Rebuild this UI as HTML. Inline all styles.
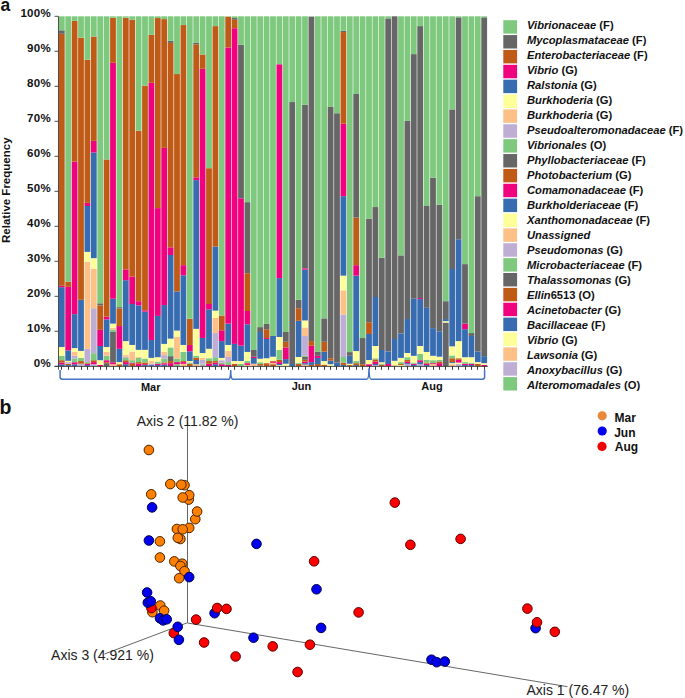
<!DOCTYPE html><html><head><meta charset="utf-8"><style>html,body{margin:0;padding:0;background:#fff;}svg{display:block;}text{font-family:"Liberation Sans",sans-serif;}</style></head><body>
<svg width="685" height="698" viewBox="0 0 685 698">
<rect width="685" height="698" fill="#fff"/>
<g shape-rendering="auto">
<rect x="58.90" y="364.34" width="5.80" height="1.96" fill="#386cb0"/>
<rect x="58.90" y="362.59" width="5.80" height="1.75" fill="#f0027f"/>
<rect x="58.90" y="360.21" width="5.80" height="2.38" fill="#bf5b17"/>
<rect x="58.90" y="355.80" width="5.80" height="4.41" fill="#7fc97f"/>
<rect x="58.90" y="347.05" width="5.80" height="8.75" fill="#ffff99"/>
<rect x="58.90" y="287.20" width="5.80" height="59.85" fill="#386cb0"/>
<rect x="58.90" y="285.80" width="5.80" height="1.40" fill="#f0027f"/>
<rect x="58.90" y="33.80" width="5.80" height="252.00" fill="#bf5b17"/>
<rect x="58.90" y="30.30" width="5.80" height="3.50" fill="#666666"/>
<rect x="58.90" y="16.30" width="5.80" height="14.00" fill="#7fc97f"/>
<rect x="65.30" y="365.07" width="5.80" height="1.23" fill="#386cb0"/>
<rect x="65.30" y="363.75" width="5.80" height="1.33" fill="#bf5b17"/>
<rect x="65.30" y="362.10" width="5.80" height="1.64" fill="#beaed4"/>
<rect x="65.30" y="360.84" width="5.80" height="1.26" fill="#ffff99"/>
<rect x="65.30" y="350.34" width="5.80" height="10.50" fill="#386cb0"/>
<rect x="65.30" y="286.85" width="5.80" height="63.49" fill="#f0027f"/>
<rect x="65.30" y="281.60" width="5.80" height="5.25" fill="#bf5b17"/>
<rect x="65.30" y="16.30" width="5.80" height="265.30" fill="#7fc97f"/>
<rect x="71.70" y="364.34" width="5.80" height="1.96" fill="#386cb0"/>
<rect x="71.70" y="362.24" width="5.80" height="2.10" fill="#f0027f"/>
<rect x="71.70" y="358.60" width="5.80" height="3.64" fill="#7fc97f"/>
<rect x="71.70" y="355.80" width="5.80" height="2.80" fill="#beaed4"/>
<rect x="71.70" y="351.95" width="5.80" height="3.85" fill="#fdc086"/>
<rect x="71.70" y="348.10" width="5.80" height="3.85" fill="#ffff99"/>
<rect x="71.70" y="314.15" width="5.80" height="33.95" fill="#386cb0"/>
<rect x="71.70" y="161.55" width="5.80" height="152.60" fill="#f0027f"/>
<rect x="71.70" y="20.85" width="5.80" height="140.70" fill="#bf5b17"/>
<rect x="71.70" y="16.30" width="5.80" height="4.55" fill="#7fc97f"/>
<rect x="78.10" y="363.75" width="5.80" height="2.56" fill="#beaed4"/>
<rect x="78.10" y="361.05" width="5.80" height="2.69" fill="#bf5b17"/>
<rect x="78.10" y="357.90" width="5.80" height="3.15" fill="#7fc97f"/>
<rect x="78.10" y="350.90" width="5.80" height="7.00" fill="#ffff99"/>
<rect x="78.10" y="299.80" width="5.80" height="51.10" fill="#386cb0"/>
<rect x="78.10" y="37.65" width="5.80" height="262.15" fill="#bf5b17"/>
<rect x="78.10" y="16.30" width="5.80" height="21.35" fill="#7fc97f"/>
<rect x="84.50" y="365.07" width="5.80" height="1.23" fill="#386cb0"/>
<rect x="84.50" y="363.75" width="5.80" height="1.33" fill="#f0027f"/>
<rect x="84.50" y="363.15" width="5.80" height="0.59" fill="#bf5b17"/>
<rect x="84.50" y="362.10" width="5.80" height="1.05" fill="#7fc97f"/>
<rect x="84.50" y="348.80" width="5.80" height="13.30" fill="#beaed4"/>
<rect x="84.50" y="261.65" width="5.80" height="87.15" fill="#fdc086"/>
<rect x="84.50" y="251.85" width="5.80" height="9.80" fill="#ffff99"/>
<rect x="84.50" y="206.00" width="5.80" height="45.85" fill="#386cb0"/>
<rect x="84.50" y="202.85" width="5.80" height="3.15" fill="#f0027f"/>
<rect x="84.50" y="59.70" width="5.80" height="143.15" fill="#bf5b17"/>
<rect x="84.50" y="16.30" width="5.80" height="43.40" fill="#7fc97f"/>
<rect x="90.90" y="364.20" width="5.80" height="2.10" fill="#beaed4"/>
<rect x="90.90" y="362.10" width="5.80" height="2.10" fill="#f0027f"/>
<rect x="90.90" y="360.21" width="5.80" height="1.89" fill="#bf5b17"/>
<rect x="90.90" y="353.21" width="5.80" height="7.00" fill="#7fc97f"/>
<rect x="90.90" y="308.20" width="5.80" height="45.01" fill="#beaed4"/>
<rect x="90.90" y="268.65" width="5.80" height="39.55" fill="#fdc086"/>
<rect x="90.90" y="258.15" width="5.80" height="10.50" fill="#ffff99"/>
<rect x="90.90" y="152.45" width="5.80" height="105.70" fill="#386cb0"/>
<rect x="90.90" y="140.90" width="5.80" height="11.55" fill="#f0027f"/>
<rect x="90.90" y="36.60" width="5.80" height="104.30" fill="#bf5b17"/>
<rect x="90.90" y="16.30" width="5.80" height="20.30" fill="#7fc97f"/>
<rect x="97.30" y="364.90" width="5.80" height="1.40" fill="#f0027f"/>
<rect x="97.30" y="360.21" width="5.80" height="4.69" fill="#ffff99"/>
<rect x="97.30" y="346.00" width="5.80" height="14.21" fill="#386cb0"/>
<rect x="97.30" y="329.90" width="5.80" height="16.10" fill="#f0027f"/>
<rect x="97.30" y="305.40" width="5.80" height="24.50" fill="#bf5b17"/>
<rect x="97.30" y="303.30" width="5.80" height="2.10" fill="#666666"/>
<rect x="97.30" y="16.30" width="5.80" height="287.00" fill="#7fc97f"/>
<rect x="103.70" y="363.15" width="5.80" height="3.15" fill="#666666"/>
<rect x="103.70" y="362.24" width="5.80" height="0.91" fill="#bf5b17"/>
<rect x="103.70" y="360.21" width="5.80" height="2.03" fill="#f0027f"/>
<rect x="103.70" y="355.80" width="5.80" height="4.41" fill="#7fc97f"/>
<rect x="103.70" y="351.95" width="5.80" height="3.85" fill="#fdc086"/>
<rect x="103.70" y="347.05" width="5.80" height="4.90" fill="#ffff99"/>
<rect x="103.70" y="319.40" width="5.80" height="27.65" fill="#386cb0"/>
<rect x="103.70" y="316.60" width="5.80" height="2.80" fill="#f0027f"/>
<rect x="103.70" y="159.45" width="5.80" height="157.15" fill="#bf5b17"/>
<rect x="103.70" y="16.30" width="5.80" height="143.15" fill="#7fc97f"/>
<rect x="110.10" y="364.20" width="5.80" height="2.10" fill="#fdc086"/>
<rect x="110.10" y="362.24" width="5.80" height="1.96" fill="#f0027f"/>
<rect x="110.10" y="332.00" width="5.80" height="30.24" fill="#666666"/>
<rect x="110.10" y="329.55" width="5.80" height="2.45" fill="#7fc97f"/>
<rect x="110.10" y="327.80" width="5.80" height="1.75" fill="#fdc086"/>
<rect x="110.10" y="323.60" width="5.80" height="4.20" fill="#ffff99"/>
<rect x="110.10" y="298.75" width="5.80" height="24.85" fill="#386cb0"/>
<rect x="110.10" y="62.85" width="5.80" height="235.90" fill="#f0027f"/>
<rect x="110.10" y="17.70" width="5.80" height="45.15" fill="#bf5b17"/>
<rect x="110.10" y="16.30" width="5.80" height="1.40" fill="#7fc97f"/>
<rect x="116.50" y="364.20" width="5.80" height="2.10" fill="#bf5b17"/>
<rect x="116.50" y="362.10" width="5.80" height="2.10" fill="#ffff99"/>
<rect x="116.50" y="348.80" width="5.80" height="13.30" fill="#386cb0"/>
<rect x="116.50" y="326.05" width="5.80" height="22.75" fill="#f0027f"/>
<rect x="116.50" y="308.55" width="5.80" height="17.50" fill="#bf5b17"/>
<rect x="116.50" y="307.15" width="5.80" height="1.40" fill="#666666"/>
<rect x="116.50" y="16.30" width="5.80" height="290.85" fill="#7fc97f"/>
<rect x="122.90" y="364.20" width="5.80" height="2.10" fill="#386cb0"/>
<rect x="122.90" y="362.10" width="5.80" height="2.10" fill="#f0027f"/>
<rect x="122.90" y="360.21" width="5.80" height="1.89" fill="#bf5b17"/>
<rect x="122.90" y="357.90" width="5.80" height="2.31" fill="#7fc97f"/>
<rect x="122.90" y="356.85" width="5.80" height="1.05" fill="#beaed4"/>
<rect x="122.90" y="355.10" width="5.80" height="1.75" fill="#fdc086"/>
<rect x="122.90" y="341.10" width="5.80" height="14.00" fill="#ffff99"/>
<rect x="122.90" y="280.20" width="5.80" height="60.90" fill="#386cb0"/>
<rect x="122.90" y="269.35" width="5.80" height="10.85" fill="#f0027f"/>
<rect x="122.90" y="17.70" width="5.80" height="251.65" fill="#bf5b17"/>
<rect x="122.90" y="16.30" width="5.80" height="1.40" fill="#7fc97f"/>
<rect x="129.30" y="363.75" width="5.80" height="2.56" fill="#bf5b17"/>
<rect x="129.30" y="362.80" width="5.80" height="0.94" fill="#f0027f"/>
<rect x="129.30" y="360.21" width="5.80" height="2.59" fill="#7fc97f"/>
<rect x="129.30" y="351.60" width="5.80" height="8.61" fill="#fdc086"/>
<rect x="129.30" y="344.95" width="5.80" height="6.65" fill="#ffff99"/>
<rect x="129.30" y="304.00" width="5.80" height="40.95" fill="#386cb0"/>
<rect x="129.30" y="276.70" width="5.80" height="27.30" fill="#f0027f"/>
<rect x="129.30" y="19.80" width="5.80" height="256.90" fill="#bf5b17"/>
<rect x="129.30" y="16.30" width="5.80" height="3.50" fill="#7fc97f"/>
<rect x="135.70" y="363.75" width="5.80" height="2.56" fill="#f0027f"/>
<rect x="135.70" y="362.10" width="5.80" height="1.64" fill="#bf5b17"/>
<rect x="135.70" y="357.90" width="5.80" height="4.20" fill="#7fc97f"/>
<rect x="135.70" y="356.85" width="5.80" height="1.05" fill="#fdc086"/>
<rect x="135.70" y="349.85" width="5.80" height="7.00" fill="#ffff99"/>
<rect x="135.70" y="305.40" width="5.80" height="44.45" fill="#386cb0"/>
<rect x="135.70" y="301.20" width="5.80" height="4.20" fill="#f0027f"/>
<rect x="135.70" y="130.75" width="5.80" height="170.45" fill="#bf5b17"/>
<rect x="135.70" y="16.30" width="5.80" height="114.45" fill="#7fc97f"/>
<rect x="142.10" y="365.07" width="5.80" height="1.23" fill="#386cb0"/>
<rect x="142.10" y="364.20" width="5.80" height="0.88" fill="#f0027f"/>
<rect x="142.10" y="362.45" width="5.80" height="1.75" fill="#bf5b17"/>
<rect x="142.10" y="358.60" width="5.80" height="3.85" fill="#7fc97f"/>
<rect x="142.10" y="349.85" width="5.80" height="8.75" fill="#ffff99"/>
<rect x="142.10" y="311.70" width="5.80" height="38.15" fill="#386cb0"/>
<rect x="142.10" y="310.30" width="5.80" height="1.40" fill="#f0027f"/>
<rect x="142.10" y="85.60" width="5.80" height="224.70" fill="#bf5b17"/>
<rect x="142.10" y="16.30" width="5.80" height="69.30" fill="#7fc97f"/>
<rect x="148.50" y="365.07" width="5.80" height="1.23" fill="#386cb0"/>
<rect x="148.50" y="363.75" width="5.80" height="1.33" fill="#beaed4"/>
<rect x="148.50" y="361.05" width="5.80" height="2.69" fill="#fdc086"/>
<rect x="148.50" y="357.90" width="5.80" height="3.15" fill="#ffff99"/>
<rect x="148.50" y="340.05" width="5.80" height="17.85" fill="#386cb0"/>
<rect x="148.50" y="82.80" width="5.80" height="257.25" fill="#f0027f"/>
<rect x="148.50" y="34.85" width="5.80" height="47.95" fill="#bf5b17"/>
<rect x="148.50" y="16.30" width="5.80" height="18.55" fill="#7fc97f"/>
<rect x="154.90" y="365.07" width="5.80" height="1.23" fill="#386cb0"/>
<rect x="154.90" y="363.75" width="5.80" height="1.33" fill="#f0027f"/>
<rect x="154.90" y="361.57" width="5.80" height="2.17" fill="#7fc97f"/>
<rect x="154.90" y="357.20" width="5.80" height="4.38" fill="#ffff99"/>
<rect x="154.90" y="315.90" width="5.80" height="41.30" fill="#386cb0"/>
<rect x="154.90" y="208.10" width="5.80" height="107.80" fill="#f0027f"/>
<rect x="154.90" y="18.05" width="5.80" height="190.05" fill="#bf5b17"/>
<rect x="154.90" y="16.30" width="5.80" height="1.75" fill="#7fc97f"/>
<rect x="161.30" y="364.62" width="5.80" height="1.68" fill="#386cb0"/>
<rect x="161.30" y="363.29" width="5.80" height="1.33" fill="#f0027f"/>
<rect x="161.30" y="362.45" width="5.80" height="0.84" fill="#bf5b17"/>
<rect x="161.30" y="358.60" width="5.80" height="3.85" fill="#7fc97f"/>
<rect x="161.30" y="355.10" width="5.80" height="3.50" fill="#beaed4"/>
<rect x="161.30" y="351.95" width="5.80" height="3.15" fill="#fdc086"/>
<rect x="161.30" y="343.90" width="5.80" height="8.05" fill="#ffff99"/>
<rect x="161.30" y="305.05" width="5.80" height="38.85" fill="#386cb0"/>
<rect x="161.30" y="147.90" width="5.80" height="157.15" fill="#f0027f"/>
<rect x="161.30" y="19.10" width="5.80" height="128.80" fill="#bf5b17"/>
<rect x="161.30" y="16.30" width="5.80" height="2.80" fill="#7fc97f"/>
<rect x="167.70" y="363.15" width="5.80" height="3.15" fill="#f0027f"/>
<rect x="167.70" y="361.05" width="5.80" height="2.10" fill="#bf5b17"/>
<rect x="167.70" y="356.15" width="5.80" height="4.90" fill="#666666"/>
<rect x="167.70" y="347.40" width="5.80" height="8.75" fill="#7fc97f"/>
<rect x="167.70" y="338.65" width="5.80" height="8.75" fill="#ffff99"/>
<rect x="167.70" y="255.00" width="5.80" height="83.65" fill="#386cb0"/>
<rect x="167.70" y="247.30" width="5.80" height="7.70" fill="#f0027f"/>
<rect x="167.70" y="42.90" width="5.80" height="204.40" fill="#bf5b17"/>
<rect x="167.70" y="40.80" width="5.80" height="2.10" fill="#666666"/>
<rect x="167.70" y="16.30" width="5.80" height="24.50" fill="#7fc97f"/>
<rect x="174.10" y="364.20" width="5.80" height="2.10" fill="#7fc97f"/>
<rect x="174.10" y="362.10" width="5.80" height="2.10" fill="#f0027f"/>
<rect x="174.10" y="358.60" width="5.80" height="3.50" fill="#7fc97f"/>
<rect x="174.10" y="336.90" width="5.80" height="21.70" fill="#fdc086"/>
<rect x="174.10" y="330.60" width="5.80" height="6.30" fill="#ffff99"/>
<rect x="174.10" y="291.40" width="5.80" height="39.20" fill="#386cb0"/>
<rect x="174.10" y="74.05" width="5.80" height="217.35" fill="#bf5b17"/>
<rect x="174.10" y="16.30" width="5.80" height="57.75" fill="#7fc97f"/>
<rect x="180.50" y="363.85" width="5.80" height="2.45" fill="#fdc086"/>
<rect x="180.50" y="362.10" width="5.80" height="1.75" fill="#f0027f"/>
<rect x="180.50" y="361.05" width="5.80" height="1.05" fill="#bf5b17"/>
<rect x="180.50" y="351.95" width="5.80" height="9.10" fill="#7fc97f"/>
<rect x="180.50" y="344.95" width="5.80" height="7.00" fill="#ffff99"/>
<rect x="180.50" y="275.30" width="5.80" height="69.65" fill="#386cb0"/>
<rect x="180.50" y="265.15" width="5.80" height="10.15" fill="#f0027f"/>
<rect x="180.50" y="25.05" width="5.80" height="240.10" fill="#bf5b17"/>
<rect x="180.50" y="16.30" width="5.80" height="8.75" fill="#7fc97f"/>
<rect x="186.90" y="363.85" width="5.80" height="2.45" fill="#bf5b17"/>
<rect x="186.90" y="362.45" width="5.80" height="1.40" fill="#7fc97f"/>
<rect x="186.90" y="361.05" width="5.80" height="1.40" fill="#ffff99"/>
<rect x="186.90" y="351.25" width="5.80" height="9.80" fill="#386cb0"/>
<rect x="186.90" y="344.95" width="5.80" height="6.30" fill="#f0027f"/>
<rect x="186.90" y="318.70" width="5.80" height="26.25" fill="#bf5b17"/>
<rect x="186.90" y="16.30" width="5.80" height="302.40" fill="#7fc97f"/>
<rect x="193.30" y="364.20" width="5.80" height="2.10" fill="#fdc086"/>
<rect x="193.30" y="360.00" width="5.80" height="4.20" fill="#386cb0"/>
<rect x="193.30" y="357.90" width="5.80" height="2.10" fill="#bf5b17"/>
<rect x="193.30" y="355.62" width="5.80" height="2.28" fill="#7fc97f"/>
<rect x="193.30" y="328.85" width="5.80" height="26.77" fill="#ffff99"/>
<rect x="193.30" y="180.10" width="5.80" height="148.75" fill="#386cb0"/>
<rect x="193.30" y="177.30" width="5.80" height="2.80" fill="#f0027f"/>
<rect x="193.30" y="44.30" width="5.80" height="133.00" fill="#bf5b17"/>
<rect x="193.30" y="42.55" width="5.80" height="1.75" fill="#666666"/>
<rect x="193.30" y="16.30" width="5.80" height="26.25" fill="#7fc97f"/>
<rect x="199.70" y="364.55" width="5.80" height="1.75" fill="#beaed4"/>
<rect x="199.70" y="363.75" width="5.80" height="0.81" fill="#7fc97f"/>
<rect x="199.70" y="359.82" width="5.80" height="3.92" fill="#beaed4"/>
<rect x="199.70" y="357.90" width="5.80" height="1.92" fill="#fdc086"/>
<rect x="199.70" y="353.00" width="5.80" height="4.90" fill="#ffff99"/>
<rect x="199.70" y="337.95" width="5.80" height="15.05" fill="#386cb0"/>
<rect x="199.70" y="68.80" width="5.80" height="269.15" fill="#f0027f"/>
<rect x="199.70" y="54.45" width="5.80" height="14.35" fill="#bf5b17"/>
<rect x="199.70" y="16.30" width="5.80" height="38.15" fill="#7fc97f"/>
<rect x="206.10" y="363.75" width="5.80" height="2.56" fill="#f0027f"/>
<rect x="206.10" y="361.05" width="5.80" height="2.69" fill="#bf5b17"/>
<rect x="206.10" y="358.25" width="5.80" height="2.80" fill="#7fc97f"/>
<rect x="206.10" y="348.80" width="5.80" height="9.45" fill="#ffff99"/>
<rect x="206.10" y="309.25" width="5.80" height="39.55" fill="#386cb0"/>
<rect x="206.10" y="304.00" width="5.80" height="5.25" fill="#f0027f"/>
<rect x="206.10" y="168.20" width="5.80" height="135.80" fill="#bf5b17"/>
<rect x="206.10" y="16.30" width="5.80" height="151.90" fill="#7fc97f"/>
<rect x="212.50" y="364.20" width="5.80" height="2.10" fill="#386cb0"/>
<rect x="212.50" y="362.62" width="5.80" height="1.57" fill="#f0027f"/>
<rect x="212.50" y="361.05" width="5.80" height="1.57" fill="#bf5b17"/>
<rect x="212.50" y="357.20" width="5.80" height="3.85" fill="#7fc97f"/>
<rect x="212.50" y="333.05" width="5.80" height="24.15" fill="#beaed4"/>
<rect x="212.50" y="318.00" width="5.80" height="15.05" fill="#fdc086"/>
<rect x="212.50" y="310.65" width="5.80" height="7.35" fill="#ffff99"/>
<rect x="212.50" y="246.60" width="5.80" height="64.05" fill="#386cb0"/>
<rect x="212.50" y="26.10" width="5.80" height="220.50" fill="#bf5b17"/>
<rect x="212.50" y="16.30" width="5.80" height="9.80" fill="#7fc97f"/>
<rect x="218.90" y="364.20" width="5.80" height="2.10" fill="#f0027f"/>
<rect x="218.90" y="362.80" width="5.80" height="1.40" fill="#7fc97f"/>
<rect x="218.90" y="360.21" width="5.80" height="2.59" fill="#beaed4"/>
<rect x="218.90" y="357.90" width="5.80" height="2.31" fill="#ffff99"/>
<rect x="218.90" y="341.10" width="5.80" height="16.80" fill="#386cb0"/>
<rect x="218.90" y="330.25" width="5.80" height="10.85" fill="#f0027f"/>
<rect x="218.90" y="315.55" width="5.80" height="14.70" fill="#bf5b17"/>
<rect x="218.90" y="16.30" width="5.80" height="299.25" fill="#7fc97f"/>
<rect x="225.30" y="364.90" width="5.80" height="1.40" fill="#f0027f"/>
<rect x="225.30" y="362.10" width="5.80" height="2.80" fill="#7fc97f"/>
<rect x="225.30" y="356.99" width="5.80" height="5.11" fill="#beaed4"/>
<rect x="225.30" y="351.04" width="5.80" height="5.95" fill="#fdc086"/>
<rect x="225.30" y="344.95" width="5.80" height="6.09" fill="#ffff99"/>
<rect x="225.30" y="323.60" width="5.80" height="21.35" fill="#386cb0"/>
<rect x="225.30" y="47.45" width="5.80" height="276.15" fill="#f0027f"/>
<rect x="225.30" y="16.65" width="5.80" height="30.80" fill="#bf5b17"/>
<rect x="225.30" y="16.30" width="5.80" height="0.35" fill="#7fc97f"/>
<rect x="231.70" y="363.75" width="5.80" height="2.56" fill="#bf5b17"/>
<rect x="231.70" y="361.05" width="5.80" height="2.69" fill="#ffff99"/>
<rect x="231.70" y="343.90" width="5.80" height="17.15" fill="#386cb0"/>
<rect x="231.70" y="28.20" width="5.80" height="315.70" fill="#f0027f"/>
<rect x="231.70" y="19.80" width="5.80" height="8.40" fill="#bf5b17"/>
<rect x="231.70" y="18.05" width="5.80" height="1.75" fill="#666666"/>
<rect x="231.70" y="16.30" width="5.80" height="1.75" fill="#7fc97f"/>
<rect x="238.10" y="363.75" width="5.80" height="2.56" fill="#7fc97f"/>
<rect x="238.10" y="361.05" width="5.80" height="2.69" fill="#ffff99"/>
<rect x="238.10" y="345.65" width="5.80" height="15.40" fill="#386cb0"/>
<rect x="238.10" y="198.30" width="5.80" height="147.35" fill="#f0027f"/>
<rect x="238.10" y="44.65" width="5.80" height="153.65" fill="#666666"/>
<rect x="238.10" y="16.30" width="5.80" height="28.35" fill="#7fc97f"/>
<rect x="244.50" y="364.90" width="5.80" height="1.40" fill="#fdc086"/>
<rect x="244.50" y="363.15" width="5.80" height="1.75" fill="#f0027f"/>
<rect x="244.50" y="361.05" width="5.80" height="2.10" fill="#7fc97f"/>
<rect x="244.50" y="351.95" width="5.80" height="9.10" fill="#ffff99"/>
<rect x="244.50" y="324.30" width="5.80" height="27.65" fill="#386cb0"/>
<rect x="244.50" y="311.00" width="5.80" height="13.30" fill="#f0027f"/>
<rect x="244.50" y="273.20" width="5.80" height="37.80" fill="#bf5b17"/>
<rect x="244.50" y="202.15" width="5.80" height="71.05" fill="#666666"/>
<rect x="244.50" y="16.30" width="5.80" height="185.85" fill="#7fc97f"/>
<rect x="250.90" y="363.75" width="5.80" height="2.56" fill="#fdc086"/>
<rect x="250.90" y="358.04" width="5.80" height="5.70" fill="#386cb0"/>
<rect x="250.90" y="356.71" width="5.80" height="1.33" fill="#f0027f"/>
<rect x="250.90" y="349.99" width="5.80" height="6.72" fill="#666666"/>
<rect x="250.90" y="16.30" width="5.80" height="333.69" fill="#7fc97f"/>
<rect x="257.30" y="365.53" width="5.80" height="0.77" fill="#386cb0"/>
<rect x="257.30" y="364.03" width="5.80" height="1.50" fill="#bf5b17"/>
<rect x="257.30" y="362.24" width="5.80" height="1.79" fill="#7fc97f"/>
<rect x="257.30" y="358.74" width="5.80" height="3.50" fill="#ffff99"/>
<rect x="257.30" y="332.00" width="5.80" height="26.74" fill="#386cb0"/>
<rect x="257.30" y="327.10" width="5.80" height="4.90" fill="#666666"/>
<rect x="257.30" y="16.30" width="5.80" height="310.80" fill="#7fc97f"/>
<rect x="263.70" y="363.15" width="5.80" height="3.15" fill="#bf5b17"/>
<rect x="263.70" y="358.25" width="5.80" height="4.90" fill="#ffff99"/>
<rect x="263.70" y="339.00" width="5.80" height="19.25" fill="#386cb0"/>
<rect x="263.70" y="338.06" width="5.80" height="0.94" fill="#f0027f"/>
<rect x="263.70" y="329.20" width="5.80" height="8.86" fill="#bf5b17"/>
<rect x="263.70" y="323.95" width="5.80" height="5.25" fill="#666666"/>
<rect x="263.70" y="16.30" width="5.80" height="307.65" fill="#7fc97f"/>
<rect x="270.10" y="364.20" width="5.80" height="2.10" fill="#bf5b17"/>
<rect x="270.10" y="362.80" width="5.80" height="1.40" fill="#fdc086"/>
<rect x="270.10" y="361.75" width="5.80" height="1.05" fill="#f0027f"/>
<rect x="270.10" y="360.70" width="5.80" height="1.05" fill="#bf5b17"/>
<rect x="270.10" y="356.71" width="5.80" height="3.99" fill="#ffff99"/>
<rect x="270.10" y="335.96" width="5.80" height="20.75" fill="#386cb0"/>
<rect x="270.10" y="16.30" width="5.80" height="319.66" fill="#7fc97f"/>
<rect x="276.50" y="365.07" width="5.80" height="1.23" fill="#ffff99"/>
<rect x="276.50" y="364.03" width="5.80" height="1.05" fill="#386cb0"/>
<rect x="276.50" y="362.10" width="5.80" height="1.93" fill="#f0027f"/>
<rect x="276.50" y="359.79" width="5.80" height="2.31" fill="#bf5b17"/>
<rect x="276.50" y="349.99" width="5.80" height="9.80" fill="#7fc97f"/>
<rect x="276.50" y="337.00" width="5.80" height="12.99" fill="#ffff99"/>
<rect x="276.50" y="278.10" width="5.80" height="58.90" fill="#386cb0"/>
<rect x="276.50" y="64.25" width="5.80" height="213.85" fill="#f0027f"/>
<rect x="276.50" y="16.30" width="5.80" height="47.95" fill="#7fc97f"/>
<rect x="282.90" y="363.75" width="5.80" height="2.56" fill="#ffff99"/>
<rect x="282.90" y="359.09" width="5.80" height="4.65" fill="#386cb0"/>
<rect x="282.90" y="347.40" width="5.80" height="11.69" fill="#f0027f"/>
<rect x="282.90" y="341.80" width="5.80" height="5.60" fill="#bf5b17"/>
<rect x="282.90" y="332.00" width="5.80" height="9.80" fill="#666666"/>
<rect x="282.90" y="16.30" width="5.80" height="315.70" fill="#7fc97f"/>
<rect x="289.30" y="364.03" width="5.80" height="2.27" fill="#386cb0"/>
<rect x="289.30" y="102.05" width="5.80" height="261.98" fill="#666666"/>
<rect x="289.30" y="16.30" width="5.80" height="85.75" fill="#7fc97f"/>
<rect x="295.70" y="363.75" width="5.80" height="2.56" fill="#bf5b17"/>
<rect x="295.70" y="362.80" width="5.80" height="0.94" fill="#7fc97f"/>
<rect x="295.70" y="356.99" width="5.80" height="5.81" fill="#ffff99"/>
<rect x="295.70" y="320.80" width="5.80" height="36.19" fill="#386cb0"/>
<rect x="295.70" y="308.20" width="5.80" height="12.60" fill="#bf5b17"/>
<rect x="295.70" y="299.80" width="5.80" height="8.40" fill="#666666"/>
<rect x="295.70" y="16.30" width="5.80" height="283.50" fill="#7fc97f"/>
<rect x="302.10" y="364.62" width="5.80" height="1.68" fill="#fdc086"/>
<rect x="302.10" y="363.15" width="5.80" height="1.47" fill="#386cb0"/>
<rect x="302.10" y="361.75" width="5.80" height="1.40" fill="#f0027f"/>
<rect x="302.10" y="359.79" width="5.80" height="1.96" fill="#bf5b17"/>
<rect x="302.10" y="356.99" width="5.80" height="2.80" fill="#666666"/>
<rect x="302.10" y="355.84" width="5.80" height="1.15" fill="#7fc97f"/>
<rect x="302.10" y="335.96" width="5.80" height="19.88" fill="#beaed4"/>
<rect x="302.10" y="327.45" width="5.80" height="8.51" fill="#fdc086"/>
<rect x="302.10" y="320.45" width="5.80" height="7.00" fill="#ffff99"/>
<rect x="302.10" y="269.70" width="5.80" height="50.75" fill="#386cb0"/>
<rect x="302.10" y="268.30" width="5.80" height="1.40" fill="#f0027f"/>
<rect x="302.10" y="104.85" width="5.80" height="163.45" fill="#666666"/>
<rect x="302.10" y="16.30" width="5.80" height="88.55" fill="#7fc97f"/>
<rect x="308.50" y="364.90" width="5.80" height="1.40" fill="#bf5b17"/>
<rect x="308.50" y="362.10" width="5.80" height="2.80" fill="#386cb0"/>
<rect x="308.50" y="345.79" width="5.80" height="16.31" fill="#f0027f"/>
<rect x="308.50" y="341.10" width="5.80" height="4.69" fill="#bf5b17"/>
<rect x="308.50" y="16.65" width="5.80" height="324.45" fill="#666666"/>
<rect x="308.50" y="16.30" width="5.80" height="0.35" fill="#7fc97f"/>
<rect x="314.90" y="364.03" width="5.80" height="2.27" fill="#bf5b17"/>
<rect x="314.90" y="357.90" width="5.80" height="6.12" fill="#386cb0"/>
<rect x="314.90" y="355.80" width="5.80" height="2.10" fill="#f0027f"/>
<rect x="314.90" y="351.95" width="5.80" height="3.85" fill="#666666"/>
<rect x="314.90" y="16.30" width="5.80" height="335.65" fill="#7fc97f"/>
<rect x="321.30" y="364.62" width="5.80" height="1.68" fill="#bf5b17"/>
<rect x="321.30" y="361.05" width="5.80" height="3.57" fill="#ffff99"/>
<rect x="321.30" y="351.60" width="5.80" height="9.45" fill="#386cb0"/>
<rect x="321.30" y="341.80" width="5.80" height="9.80" fill="#bf5b17"/>
<rect x="321.30" y="318.35" width="5.80" height="23.45" fill="#666666"/>
<rect x="321.30" y="16.30" width="5.80" height="302.05" fill="#7fc97f"/>
<rect x="327.70" y="364.20" width="5.80" height="2.10" fill="#ffff99"/>
<rect x="327.70" y="360.70" width="5.80" height="3.50" fill="#386cb0"/>
<rect x="327.70" y="358.25" width="5.80" height="2.45" fill="#bf5b17"/>
<rect x="327.70" y="106.95" width="5.80" height="251.30" fill="#666666"/>
<rect x="327.70" y="16.30" width="5.80" height="90.65" fill="#7fc97f"/>
<rect x="334.10" y="362.59" width="5.80" height="3.71" fill="#386cb0"/>
<rect x="334.10" y="113.25" width="5.80" height="249.34" fill="#666666"/>
<rect x="334.10" y="16.30" width="5.80" height="96.95" fill="#7fc97f"/>
<rect x="340.50" y="364.90" width="5.80" height="1.40" fill="#386cb0"/>
<rect x="340.50" y="362.59" width="5.80" height="2.31" fill="#bf5b17"/>
<rect x="340.50" y="356.99" width="5.80" height="5.60" fill="#7fc97f"/>
<rect x="340.50" y="314.50" width="5.80" height="42.49" fill="#beaed4"/>
<rect x="340.50" y="290.35" width="5.80" height="24.15" fill="#fdc086"/>
<rect x="340.50" y="275.65" width="5.80" height="14.70" fill="#ffff99"/>
<rect x="340.50" y="196.20" width="5.80" height="79.45" fill="#386cb0"/>
<rect x="340.50" y="123.75" width="5.80" height="72.45" fill="#f0027f"/>
<rect x="340.50" y="32.05" width="5.80" height="91.70" fill="#bf5b17"/>
<rect x="340.50" y="30.65" width="5.80" height="1.40" fill="#666666"/>
<rect x="340.50" y="16.30" width="5.80" height="14.35" fill="#7fc97f"/>
<rect x="346.90" y="365.07" width="5.80" height="1.23" fill="#bf5b17"/>
<rect x="346.90" y="363.75" width="5.80" height="1.33" fill="#ffff99"/>
<rect x="346.90" y="355.80" width="5.80" height="7.94" fill="#386cb0"/>
<rect x="346.90" y="352.09" width="5.80" height="3.71" fill="#666666"/>
<rect x="346.90" y="16.30" width="5.80" height="335.79" fill="#7fc97f"/>
<rect x="353.30" y="365.07" width="5.80" height="1.23" fill="#386cb0"/>
<rect x="353.30" y="363.15" width="5.80" height="1.92" fill="#bf5b17"/>
<rect x="353.30" y="361.05" width="5.80" height="2.10" fill="#7fc97f"/>
<rect x="353.30" y="351.04" width="5.80" height="10.01" fill="#ffff99"/>
<rect x="353.30" y="275.65" width="5.80" height="75.39" fill="#386cb0"/>
<rect x="353.30" y="265.15" width="5.80" height="10.50" fill="#f0027f"/>
<rect x="353.30" y="217.55" width="5.80" height="47.60" fill="#bf5b17"/>
<rect x="353.30" y="94.00" width="5.80" height="123.55" fill="#666666"/>
<rect x="353.30" y="16.30" width="5.80" height="77.70" fill="#7fc97f"/>
<rect x="359.70" y="364.20" width="5.80" height="2.10" fill="#bf5b17"/>
<rect x="359.70" y="338.06" width="5.80" height="26.14" fill="#666666"/>
<rect x="359.70" y="16.30" width="5.80" height="321.75" fill="#7fc97f"/>
<rect x="366.10" y="364.20" width="5.80" height="2.10" fill="#f0027f"/>
<rect x="366.10" y="360.00" width="5.80" height="4.20" fill="#ffff99"/>
<rect x="366.10" y="333.96" width="5.80" height="26.04" fill="#386cb0"/>
<rect x="366.10" y="322.20" width="5.80" height="11.76" fill="#bf5b17"/>
<rect x="366.10" y="218.60" width="5.80" height="103.60" fill="#666666"/>
<rect x="366.10" y="16.30" width="5.80" height="202.30" fill="#7fc97f"/>
<rect x="372.50" y="365.07" width="5.80" height="1.23" fill="#beaed4"/>
<rect x="372.50" y="364.03" width="5.80" height="1.05" fill="#386cb0"/>
<rect x="372.50" y="361.75" width="5.80" height="2.28" fill="#f0027f"/>
<rect x="372.50" y="359.37" width="5.80" height="2.38" fill="#bf5b17"/>
<rect x="372.50" y="358.25" width="5.80" height="1.12" fill="#7fc97f"/>
<rect x="372.50" y="346.00" width="5.80" height="12.25" fill="#ffff99"/>
<rect x="372.50" y="297.00" width="5.80" height="49.00" fill="#386cb0"/>
<rect x="372.50" y="207.05" width="5.80" height="89.95" fill="#666666"/>
<rect x="372.50" y="16.30" width="5.80" height="190.75" fill="#7fc97f"/>
<rect x="378.90" y="364.62" width="5.80" height="1.68" fill="#bf5b17"/>
<rect x="378.90" y="363.50" width="5.80" height="1.12" fill="#7fc97f"/>
<rect x="378.90" y="362.24" width="5.80" height="1.26" fill="#ffff99"/>
<rect x="378.90" y="349.99" width="5.80" height="12.25" fill="#386cb0"/>
<rect x="378.90" y="257.80" width="5.80" height="92.19" fill="#666666"/>
<rect x="378.90" y="16.30" width="5.80" height="241.50" fill="#7fc97f"/>
<rect x="385.30" y="364.03" width="5.80" height="2.27" fill="#f0027f"/>
<rect x="385.30" y="351.46" width="5.80" height="12.56" fill="#386cb0"/>
<rect x="385.30" y="18.40" width="5.80" height="333.06" fill="#666666"/>
<rect x="385.30" y="16.30" width="5.80" height="2.10" fill="#7fc97f"/>
<rect x="391.70" y="365.53" width="5.80" height="0.77" fill="#bf5b17"/>
<rect x="391.70" y="360.84" width="5.80" height="4.69" fill="#ffff99"/>
<rect x="391.70" y="339.00" width="5.80" height="21.84" fill="#386cb0"/>
<rect x="391.70" y="16.30" width="5.80" height="322.70" fill="#666666"/>
<rect x="398.10" y="365.07" width="5.80" height="1.23" fill="#ffff99"/>
<rect x="398.10" y="364.03" width="5.80" height="1.05" fill="#bf5b17"/>
<rect x="398.10" y="362.10" width="5.80" height="1.93" fill="#7fc97f"/>
<rect x="398.10" y="357.90" width="5.80" height="4.20" fill="#ffff99"/>
<rect x="398.10" y="333.40" width="5.80" height="24.50" fill="#386cb0"/>
<rect x="398.10" y="255.35" width="5.80" height="78.05" fill="#666666"/>
<rect x="398.10" y="16.30" width="5.80" height="239.05" fill="#7fc97f"/>
<rect x="404.50" y="364.20" width="5.80" height="2.10" fill="#beaed4"/>
<rect x="404.50" y="363.15" width="5.80" height="1.05" fill="#386cb0"/>
<rect x="404.50" y="361.75" width="5.80" height="1.40" fill="#f0027f"/>
<rect x="404.50" y="360.00" width="5.80" height="1.75" fill="#bf5b17"/>
<rect x="404.50" y="357.20" width="5.80" height="2.80" fill="#7fc97f"/>
<rect x="404.50" y="353.00" width="5.80" height="4.20" fill="#ffff99"/>
<rect x="404.50" y="319.05" width="5.80" height="33.95" fill="#386cb0"/>
<rect x="404.50" y="120.95" width="5.80" height="198.10" fill="#666666"/>
<rect x="404.50" y="16.30" width="5.80" height="104.65" fill="#7fc97f"/>
<rect x="410.90" y="364.90" width="5.80" height="1.40" fill="#386cb0"/>
<rect x="410.90" y="363.75" width="5.80" height="1.16" fill="#f0027f"/>
<rect x="410.90" y="362.59" width="5.80" height="1.15" fill="#7fc97f"/>
<rect x="410.90" y="355.84" width="5.80" height="6.75" fill="#ffff99"/>
<rect x="410.90" y="298.75" width="5.80" height="57.09" fill="#386cb0"/>
<rect x="410.90" y="54.10" width="5.80" height="244.65" fill="#666666"/>
<rect x="410.90" y="16.30" width="5.80" height="37.80" fill="#7fc97f"/>
<rect x="417.30" y="364.20" width="5.80" height="2.10" fill="#beaed4"/>
<rect x="417.30" y="362.10" width="5.80" height="2.10" fill="#386cb0"/>
<rect x="417.30" y="360.21" width="5.80" height="1.89" fill="#f0027f"/>
<rect x="417.30" y="353.84" width="5.80" height="6.37" fill="#7fc97f"/>
<rect x="417.30" y="346.00" width="5.80" height="7.84" fill="#ffff99"/>
<rect x="417.30" y="299.10" width="5.80" height="46.90" fill="#386cb0"/>
<rect x="417.30" y="298.05" width="5.80" height="1.05" fill="#f0027f"/>
<rect x="417.30" y="26.10" width="5.80" height="271.95" fill="#666666"/>
<rect x="417.30" y="16.30" width="5.80" height="9.80" fill="#7fc97f"/>
<rect x="423.70" y="365.07" width="5.80" height="1.23" fill="#386cb0"/>
<rect x="423.70" y="363.75" width="5.80" height="1.33" fill="#f0027f"/>
<rect x="423.70" y="362.59" width="5.80" height="1.15" fill="#bf5b17"/>
<rect x="423.70" y="359.79" width="5.80" height="2.80" fill="#7fc97f"/>
<rect x="423.70" y="351.95" width="5.80" height="7.84" fill="#ffff99"/>
<rect x="423.70" y="307.85" width="5.80" height="44.10" fill="#386cb0"/>
<rect x="423.70" y="206.00" width="5.80" height="101.85" fill="#666666"/>
<rect x="423.70" y="16.30" width="5.80" height="189.70" fill="#7fc97f"/>
<rect x="430.10" y="364.03" width="5.80" height="2.27" fill="#fdc086"/>
<rect x="430.10" y="363.15" width="5.80" height="0.88" fill="#f0027f"/>
<rect x="430.10" y="360.21" width="5.80" height="2.94" fill="#7fc97f"/>
<rect x="430.10" y="355.80" width="5.80" height="4.41" fill="#ffff99"/>
<rect x="430.10" y="328.15" width="5.80" height="27.65" fill="#386cb0"/>
<rect x="430.10" y="177.65" width="5.80" height="150.50" fill="#666666"/>
<rect x="430.10" y="16.30" width="5.80" height="161.35" fill="#7fc97f"/>
<rect x="436.50" y="363.15" width="5.80" height="3.15" fill="#f0027f"/>
<rect x="436.50" y="361.40" width="5.80" height="1.75" fill="#bf5b17"/>
<rect x="436.50" y="360.00" width="5.80" height="1.40" fill="#7fc97f"/>
<rect x="436.50" y="356.71" width="5.80" height="3.29" fill="#ffff99"/>
<rect x="436.50" y="331.30" width="5.80" height="25.41" fill="#386cb0"/>
<rect x="436.50" y="204.60" width="5.80" height="126.70" fill="#666666"/>
<rect x="436.50" y="16.30" width="5.80" height="188.30" fill="#7fc97f"/>
<rect x="442.90" y="322.55" width="5.80" height="43.75" fill="#666666"/>
<rect x="442.90" y="321.15" width="5.80" height="1.40" fill="#ffff99"/>
<rect x="442.90" y="319.05" width="5.80" height="2.10" fill="#386cb0"/>
<rect x="442.90" y="301.20" width="5.80" height="17.85" fill="#666666"/>
<rect x="442.90" y="16.30" width="5.80" height="284.90" fill="#7fc97f"/>
<rect x="449.30" y="364.20" width="5.80" height="2.10" fill="#fdc086"/>
<rect x="449.30" y="363.15" width="5.80" height="1.05" fill="#ffff99"/>
<rect x="449.30" y="362.10" width="5.80" height="1.05" fill="#386cb0"/>
<rect x="449.30" y="358.25" width="5.80" height="3.85" fill="#bf5b17"/>
<rect x="449.30" y="355.45" width="5.80" height="2.80" fill="#7fc97f"/>
<rect x="449.30" y="346.35" width="5.80" height="9.10" fill="#ffff99"/>
<rect x="449.30" y="269.00" width="5.80" height="77.35" fill="#386cb0"/>
<rect x="449.30" y="109.40" width="5.80" height="159.60" fill="#666666"/>
<rect x="449.30" y="16.30" width="5.80" height="93.10" fill="#7fc97f"/>
<rect x="455.70" y="364.03" width="5.80" height="2.27" fill="#beaed4"/>
<rect x="455.70" y="362.59" width="5.80" height="1.44" fill="#ffff99"/>
<rect x="455.70" y="359.79" width="5.80" height="2.80" fill="#f0027f"/>
<rect x="455.70" y="358.25" width="5.80" height="1.54" fill="#bf5b17"/>
<rect x="455.70" y="341.10" width="5.80" height="17.15" fill="#ffff99"/>
<rect x="455.70" y="239.25" width="5.80" height="101.85" fill="#386cb0"/>
<rect x="455.70" y="17.35" width="5.80" height="221.90" fill="#666666"/>
<rect x="455.70" y="16.30" width="5.80" height="1.05" fill="#7fc97f"/>
<rect x="462.10" y="365.07" width="5.80" height="1.23" fill="#386cb0"/>
<rect x="462.10" y="363.75" width="5.80" height="1.33" fill="#f0027f"/>
<rect x="462.10" y="362.10" width="5.80" height="1.64" fill="#7fc97f"/>
<rect x="462.10" y="357.20" width="5.80" height="4.90" fill="#ffff99"/>
<rect x="462.10" y="329.20" width="5.80" height="28.00" fill="#386cb0"/>
<rect x="462.10" y="323.60" width="5.80" height="5.60" fill="#f0027f"/>
<rect x="462.10" y="264.10" width="5.80" height="59.50" fill="#666666"/>
<rect x="462.10" y="16.30" width="5.80" height="247.80" fill="#7fc97f"/>
<rect x="468.50" y="365.07" width="5.80" height="1.23" fill="#386cb0"/>
<rect x="468.50" y="363.75" width="5.80" height="1.33" fill="#f0027f"/>
<rect x="468.50" y="362.59" width="5.80" height="1.15" fill="#7fc97f"/>
<rect x="468.50" y="357.20" width="5.80" height="5.39" fill="#ffff99"/>
<rect x="468.50" y="335.96" width="5.80" height="21.24" fill="#386cb0"/>
<rect x="468.50" y="333.05" width="5.80" height="2.91" fill="#666666"/>
<rect x="468.50" y="16.30" width="5.80" height="316.75" fill="#7fc97f"/>
<rect x="474.90" y="363.75" width="5.80" height="2.56" fill="#bf5b17"/>
<rect x="474.90" y="362.10" width="5.80" height="1.64" fill="#ffff99"/>
<rect x="474.90" y="351.46" width="5.80" height="10.64" fill="#386cb0"/>
<rect x="474.90" y="196.20" width="5.80" height="155.26" fill="#666666"/>
<rect x="474.90" y="16.30" width="5.80" height="179.90" fill="#7fc97f"/>
<rect x="481.30" y="364.90" width="5.80" height="1.40" fill="#f0027f"/>
<rect x="481.30" y="363.15" width="5.80" height="1.75" fill="#ffff99"/>
<rect x="481.30" y="356.15" width="5.80" height="7.00" fill="#386cb0"/>
<rect x="481.30" y="17.35" width="5.80" height="338.80" fill="#666666"/>
<rect x="481.30" y="16.30" width="5.80" height="1.05" fill="#7fc97f"/>
</g>
<g stroke="#3a3a3a" stroke-width="0.9" fill="none">
<line x1="58.5" y1="16.3" x2="58.5" y2="369.6"/>
<line x1="54.5" y1="366.4" x2="487.8" y2="366.4"/>
<line x1="54.5" y1="366.30" x2="58.5" y2="366.30"/>
<line x1="54.5" y1="331.30" x2="58.5" y2="331.30"/>
<line x1="54.5" y1="296.30" x2="58.5" y2="296.30"/>
<line x1="54.5" y1="261.30" x2="58.5" y2="261.30"/>
<line x1="54.5" y1="226.30" x2="58.5" y2="226.30"/>
<line x1="54.5" y1="191.30" x2="58.5" y2="191.30"/>
<line x1="54.5" y1="156.30" x2="58.5" y2="156.30"/>
<line x1="54.5" y1="121.30" x2="58.5" y2="121.30"/>
<line x1="54.5" y1="86.30" x2="58.5" y2="86.30"/>
<line x1="54.5" y1="51.30" x2="58.5" y2="51.30"/>
<line x1="54.5" y1="16.30" x2="58.5" y2="16.30"/>
<line x1="61.50" y1="366.4" x2="61.50" y2="369.8" stroke="#222"/>
<line x1="68.50" y1="366.4" x2="68.50" y2="369.8" stroke="#222"/>
<line x1="74.50" y1="366.4" x2="74.50" y2="369.8" stroke="#222"/>
<line x1="81.50" y1="366.4" x2="81.50" y2="369.8" stroke="#222"/>
<line x1="87.50" y1="366.4" x2="87.50" y2="369.8" stroke="#222"/>
<line x1="93.50" y1="366.4" x2="93.50" y2="369.8" stroke="#222"/>
<line x1="100.50" y1="366.4" x2="100.50" y2="369.8" stroke="#222"/>
<line x1="106.50" y1="366.4" x2="106.50" y2="369.8" stroke="#222"/>
<line x1="113.50" y1="366.4" x2="113.50" y2="369.8" stroke="#222"/>
<line x1="119.50" y1="366.4" x2="119.50" y2="369.8" stroke="#222"/>
<line x1="125.50" y1="366.4" x2="125.50" y2="369.8" stroke="#222"/>
<line x1="132.50" y1="366.4" x2="132.50" y2="369.8" stroke="#222"/>
<line x1="138.50" y1="366.4" x2="138.50" y2="369.8" stroke="#222"/>
<line x1="145.50" y1="366.4" x2="145.50" y2="369.8" stroke="#222"/>
<line x1="151.50" y1="366.4" x2="151.50" y2="369.8" stroke="#222"/>
<line x1="157.50" y1="366.4" x2="157.50" y2="369.8" stroke="#222"/>
<line x1="164.50" y1="366.4" x2="164.50" y2="369.8" stroke="#222"/>
<line x1="170.50" y1="366.4" x2="170.50" y2="369.8" stroke="#222"/>
<line x1="177.50" y1="366.4" x2="177.50" y2="369.8" stroke="#222"/>
<line x1="183.50" y1="366.4" x2="183.50" y2="369.8" stroke="#222"/>
<line x1="189.50" y1="366.4" x2="189.50" y2="369.8" stroke="#222"/>
<line x1="196.50" y1="366.4" x2="196.50" y2="369.8" stroke="#222"/>
<line x1="202.50" y1="366.4" x2="202.50" y2="369.8" stroke="#222"/>
<line x1="209.50" y1="366.4" x2="209.50" y2="369.8" stroke="#222"/>
<line x1="215.50" y1="366.4" x2="215.50" y2="369.8" stroke="#222"/>
<line x1="221.50" y1="366.4" x2="221.50" y2="369.8" stroke="#222"/>
<line x1="228.50" y1="366.4" x2="228.50" y2="369.8" stroke="#222"/>
<line x1="234.50" y1="366.4" x2="234.50" y2="369.8" stroke="#222"/>
<line x1="241.50" y1="366.4" x2="241.50" y2="369.8" stroke="#222"/>
<line x1="247.50" y1="366.4" x2="247.50" y2="369.8" stroke="#222"/>
<line x1="253.50" y1="366.4" x2="253.50" y2="369.8" stroke="#222"/>
<line x1="260.50" y1="366.4" x2="260.50" y2="369.8" stroke="#222"/>
<line x1="266.50" y1="366.4" x2="266.50" y2="369.8" stroke="#222"/>
<line x1="273.50" y1="366.4" x2="273.50" y2="369.8" stroke="#222"/>
<line x1="279.50" y1="366.4" x2="279.50" y2="369.8" stroke="#222"/>
<line x1="285.50" y1="366.4" x2="285.50" y2="369.8" stroke="#222"/>
<line x1="292.50" y1="366.4" x2="292.50" y2="369.8" stroke="#222"/>
<line x1="298.50" y1="366.4" x2="298.50" y2="369.8" stroke="#222"/>
<line x1="305.50" y1="366.4" x2="305.50" y2="369.8" stroke="#222"/>
<line x1="311.50" y1="366.4" x2="311.50" y2="369.8" stroke="#222"/>
<line x1="317.50" y1="366.4" x2="317.50" y2="369.8" stroke="#222"/>
<line x1="324.50" y1="366.4" x2="324.50" y2="369.8" stroke="#222"/>
<line x1="330.50" y1="366.4" x2="330.50" y2="369.8" stroke="#222"/>
<line x1="336.50" y1="366.4" x2="336.50" y2="369.8" stroke="#222"/>
<line x1="343.50" y1="366.4" x2="343.50" y2="369.8" stroke="#222"/>
<line x1="349.50" y1="366.4" x2="349.50" y2="369.8" stroke="#222"/>
<line x1="356.50" y1="366.4" x2="356.50" y2="369.8" stroke="#222"/>
<line x1="362.50" y1="366.4" x2="362.50" y2="369.8" stroke="#222"/>
<line x1="369.50" y1="366.4" x2="369.50" y2="369.8" stroke="#222"/>
<line x1="375.50" y1="366.4" x2="375.50" y2="369.8" stroke="#222"/>
<line x1="381.50" y1="366.4" x2="381.50" y2="369.8" stroke="#222"/>
<line x1="388.50" y1="366.4" x2="388.50" y2="369.8" stroke="#222"/>
<line x1="394.50" y1="366.4" x2="394.50" y2="369.8" stroke="#222"/>
<line x1="401.50" y1="366.4" x2="401.50" y2="369.8" stroke="#222"/>
<line x1="407.50" y1="366.4" x2="407.50" y2="369.8" stroke="#222"/>
<line x1="413.50" y1="366.4" x2="413.50" y2="369.8" stroke="#222"/>
<line x1="420.50" y1="366.4" x2="420.50" y2="369.8" stroke="#222"/>
<line x1="426.50" y1="366.4" x2="426.50" y2="369.8" stroke="#222"/>
<line x1="433.50" y1="366.4" x2="433.50" y2="369.8" stroke="#222"/>
<line x1="439.50" y1="366.4" x2="439.50" y2="369.8" stroke="#222"/>
<line x1="445.50" y1="366.4" x2="445.50" y2="369.8" stroke="#222"/>
<line x1="452.50" y1="366.4" x2="452.50" y2="369.8" stroke="#222"/>
<line x1="458.50" y1="366.4" x2="458.50" y2="369.8" stroke="#222"/>
<line x1="465.50" y1="366.4" x2="465.50" y2="369.8" stroke="#222"/>
<line x1="471.50" y1="366.4" x2="471.50" y2="369.8" stroke="#222"/>
<line x1="477.50" y1="366.4" x2="477.50" y2="369.8" stroke="#222"/>
<line x1="484.50" y1="366.4" x2="484.50" y2="369.8" stroke="#222"/>
</g>
<g font-weight="bold" font-size="11.5" letter-spacing="0.25" fill="#111" text-anchor="end">
<text x="50.9" y="367.10">0%</text>
<text x="50.9" y="332.10">10%</text>
<text x="50.9" y="297.10">20%</text>
<text x="50.9" y="262.10">30%</text>
<text x="50.9" y="227.10">40%</text>
<text x="50.9" y="192.10">50%</text>
<text x="50.9" y="157.10">60%</text>
<text x="50.9" y="122.10">70%</text>
<text x="50.9" y="87.10">80%</text>
<text x="50.9" y="52.10">90%</text>
<text x="50.9" y="17.10">100%</text>
</g>
<text transform="translate(10.3,190.2) rotate(-90)" font-weight="bold" font-size="11.5" text-anchor="middle" fill="#111">Relative Frequency</text>
<text x="0.5" y="10.8" font-weight="bold" font-size="17.5" fill="#111">a</text>
<text x="-0.6" y="414" font-weight="bold" font-size="19.5" fill="#111">b</text>
<path d="M60.1,369.9 V377.1 Q60.1,379.3 62.3,379.3 H228.6 Q230.5,379.3 230.7,370 Q230.9,379.3 232.8,379.3 H366.9 Q368.8,379.3 369.0,368.2 Q369.2,379.3 371.1,379.3 H482.4 Q484.6,379.3 484.6,377.1 V369.9" stroke="#4472c4" stroke-width="1.5" fill="none"/>
<g font-weight="bold" font-size="11" fill="#111">
<text x="140.9" y="391">Mar</text>
<text x="291.7" y="390.4">Jun</text>
<text x="421.3" y="390.4">Aug</text>
</g>
<rect x="503.3" y="20.20" width="13.8" height="13.45" fill="#7fc97f"/>
<text x="527" y="29.00" font-weight="bold" font-size="11.2" fill="#111"><tspan font-style="italic">Vibrionaceae</tspan> (F)</text>
<rect x="503.3" y="35.07" width="13.8" height="13.45" fill="#666666"/>
<text x="527" y="44.02" font-weight="bold" font-size="11.2" fill="#111"><tspan font-style="italic">Mycoplasmataceae</tspan> (F)</text>
<rect x="503.3" y="49.94" width="13.8" height="13.45" fill="#bf5b17"/>
<text x="527" y="59.04" font-weight="bold" font-size="11.2" fill="#111"><tspan font-style="italic">Enterobacteriaceae</tspan> (F)</text>
<rect x="503.3" y="64.81" width="13.8" height="13.45" fill="#f0027f"/>
<text x="527" y="74.06" font-weight="bold" font-size="11.2" fill="#111"><tspan font-style="italic">Vibrio</tspan> (G)</text>
<rect x="503.3" y="79.68" width="13.8" height="13.45" fill="#386cb0"/>
<text x="527" y="89.08" font-weight="bold" font-size="11.2" fill="#111"><tspan font-style="italic">Ralstonia</tspan> (G)</text>
<rect x="503.3" y="94.55" width="13.8" height="13.45" fill="#ffff99"/>
<text x="527" y="104.10" font-weight="bold" font-size="11.2" fill="#111"><tspan font-style="italic">Burkhoderia</tspan> (G)</text>
<rect x="503.3" y="109.42" width="13.8" height="13.45" fill="#fdc086"/>
<text x="527" y="119.12" font-weight="bold" font-size="11.2" fill="#111"><tspan font-style="italic">Burkhoderia</tspan> (G)</text>
<rect x="503.3" y="124.29" width="13.8" height="13.45" fill="#beaed4"/>
<text x="527" y="134.14" font-weight="bold" font-size="11.2" fill="#111"><tspan font-style="italic">Pseudoalteromonadaceae</tspan> (F)</text>
<rect x="503.3" y="139.16" width="13.8" height="13.45" fill="#7fc97f"/>
<text x="527" y="149.16" font-weight="bold" font-size="11.2" fill="#111"><tspan font-style="italic">Vibrionales</tspan> (O)</text>
<rect x="503.3" y="154.03" width="13.8" height="13.45" fill="#666666"/>
<text x="527" y="164.18" font-weight="bold" font-size="11.2" fill="#111"><tspan font-style="italic">Phyllobacteriaceae</tspan> (F)</text>
<rect x="503.3" y="168.90" width="13.8" height="13.45" fill="#bf5b17"/>
<text x="527" y="179.20" font-weight="bold" font-size="11.2" fill="#111"><tspan font-style="italic">Photobacterium</tspan> (G)</text>
<rect x="503.3" y="183.77" width="13.8" height="13.45" fill="#f0027f"/>
<text x="527" y="194.22" font-weight="bold" font-size="11.2" fill="#111"><tspan font-style="italic">Comamonadaceae</tspan> (F)</text>
<rect x="503.3" y="198.64" width="13.8" height="13.45" fill="#386cb0"/>
<text x="527" y="209.24" font-weight="bold" font-size="11.2" fill="#111"><tspan font-style="italic">Burkholderiaceae</tspan> (F)</text>
<rect x="503.3" y="213.51" width="13.8" height="13.45" fill="#ffff99"/>
<text x="527" y="224.26" font-weight="bold" font-size="11.2" fill="#111"><tspan font-style="italic">Xanthomonadaceae</tspan> (F)</text>
<rect x="503.3" y="228.38" width="13.8" height="13.45" fill="#fdc086"/>
<text x="527" y="239.28" font-weight="bold" font-size="11.2" fill="#111"><tspan font-style="italic">Unassigned</tspan></text>
<rect x="503.3" y="243.25" width="13.8" height="13.45" fill="#beaed4"/>
<text x="527" y="254.30" font-weight="bold" font-size="11.2" fill="#111"><tspan font-style="italic">Pseudomonas</tspan> (G)</text>
<rect x="503.3" y="258.12" width="13.8" height="13.45" fill="#7fc97f"/>
<text x="527" y="269.32" font-weight="bold" font-size="11.2" fill="#111"><tspan font-style="italic">Microbacteriaceae</tspan> (F)</text>
<rect x="503.3" y="272.99" width="13.8" height="13.45" fill="#666666"/>
<text x="527" y="284.34" font-weight="bold" font-size="11.2" fill="#111"><tspan font-style="italic">Thalassomonas</tspan> (G)</text>
<rect x="503.3" y="287.86" width="13.8" height="13.45" fill="#bf5b17"/>
<text x="527" y="299.36" font-weight="bold" font-size="11.2" fill="#111"><tspan font-style="italic">Ellin</tspan>6513 (O)</text>
<rect x="503.3" y="302.73" width="13.8" height="13.45" fill="#f0027f"/>
<text x="527" y="314.38" font-weight="bold" font-size="11.2" fill="#111"><tspan font-style="italic">Acinetobacter</tspan> (G)</text>
<rect x="503.3" y="317.60" width="13.8" height="13.45" fill="#386cb0"/>
<text x="527" y="329.40" font-weight="bold" font-size="11.2" fill="#111"><tspan font-style="italic">Bacillaceae</tspan> (F)</text>
<rect x="503.3" y="332.47" width="13.8" height="13.45" fill="#ffff99"/>
<text x="527" y="344.42" font-weight="bold" font-size="11.2" fill="#111"><tspan font-style="italic">Vibrio</tspan> (G)</text>
<rect x="503.3" y="347.34" width="13.8" height="13.45" fill="#fdc086"/>
<text x="527" y="359.44" font-weight="bold" font-size="11.2" fill="#111"><tspan font-style="italic">Lawsonia</tspan> (G)</text>
<rect x="503.3" y="362.21" width="13.8" height="13.45" fill="#beaed4"/>
<text x="527" y="374.46" font-weight="bold" font-size="11.2" fill="#111"><tspan font-style="italic">Anoxybacillus</tspan> (G)</text>
<rect x="503.3" y="377.08" width="13.8" height="13.45" fill="#7fc97f"/>
<text x="527" y="389.48" font-weight="bold" font-size="11.2" fill="#111"><tspan font-style="italic">Alteromomadales</tspan> (O)</text>
<g stroke="#555" stroke-width="0.9" fill="none">
<line x1="187.5" y1="422.5" x2="187.5" y2="622.7"/>
<line x1="187.5" y1="622.7" x2="104.5" y2="654"/>
<line x1="187.5" y1="623" x2="567.5" y2="686.7"/>
</g>
<g font-size="14" fill="#222">
<text x="136.7" y="425.5">Axis 2 (11.82 %)</text>
<text x="51.1" y="660">Axis 3 (4.921 %)</text>
<text x="526.5" y="695">Axis 1 (76.47 %)</text>
</g>
<circle cx="148.9" cy="450.0" r="4.8" fill="#ff8000" stroke="#4a2200" stroke-width="1"/>
<circle cx="170.3" cy="484.1" r="4.8" fill="#ff8000" stroke="#4a2200" stroke-width="1"/>
<circle cx="184.5" cy="485.2" r="4.8" fill="#ff8000" stroke="#4a2200" stroke-width="1"/>
<circle cx="181.3" cy="484.7" r="4.8" fill="#ff8000" stroke="#4a2200" stroke-width="1"/>
<circle cx="151.2" cy="494.3" r="4.8" fill="#ff8000" stroke="#4a2200" stroke-width="1"/>
<circle cx="188.7" cy="499.6" r="4.8" fill="#ff8000" stroke="#4a2200" stroke-width="1"/>
<circle cx="189.2" cy="495.2" r="4.8" fill="#ff8000" stroke="#4a2200" stroke-width="1"/>
<circle cx="182.7" cy="497.5" r="4.8" fill="#ff8000" stroke="#4a2200" stroke-width="1"/>
<circle cx="195.3" cy="519.2" r="4.8" fill="#ff8000" stroke="#4a2200" stroke-width="1"/>
<circle cx="197.1" cy="511.5" r="4.8" fill="#ff8000" stroke="#4a2200" stroke-width="1"/>
<circle cx="176.9" cy="529.0" r="4.8" fill="#ff8000" stroke="#4a2200" stroke-width="1"/>
<circle cx="189.2" cy="527.9" r="4.8" fill="#ff8000" stroke="#4a2200" stroke-width="1"/>
<circle cx="182.7" cy="529.3" r="4.8" fill="#ff8000" stroke="#4a2200" stroke-width="1"/>
<circle cx="180.4" cy="539.0" r="4.8" fill="#ff8000" stroke="#4a2200" stroke-width="1"/>
<circle cx="177.8" cy="537.8" r="4.8" fill="#ff8000" stroke="#4a2200" stroke-width="1"/>
<circle cx="159.9" cy="541.3" r="4.8" fill="#ff8000" stroke="#4a2200" stroke-width="1"/>
<circle cx="159.9" cy="557.5" r="4.8" fill="#ff8000" stroke="#4a2200" stroke-width="1"/>
<circle cx="174.3" cy="561.4" r="4.8" fill="#ff8000" stroke="#4a2200" stroke-width="1"/>
<circle cx="182.2" cy="563.7" r="4.8" fill="#ff8000" stroke="#4a2200" stroke-width="1"/>
<circle cx="180.4" cy="566.0" r="4.8" fill="#ff8000" stroke="#4a2200" stroke-width="1"/>
<circle cx="184.5" cy="571.2" r="4.8" fill="#ff8000" stroke="#4a2200" stroke-width="1"/>
<circle cx="179.2" cy="578.2" r="4.8" fill="#ff8000" stroke="#4a2200" stroke-width="1"/>
<circle cx="152.4" cy="612.2" r="4.8" fill="#ff8000" stroke="#4a2200" stroke-width="1"/>
<circle cx="160.3" cy="605.5" r="4.8" fill="#ff8000" stroke="#4a2200" stroke-width="1"/>
<circle cx="164.1" cy="610.7" r="4.8" fill="#ff8000" stroke="#4a2200" stroke-width="1"/>
<circle cx="151.4" cy="608.1" r="4.8" fill="#ff0000" stroke="#5a0000" stroke-width="1"/>
<circle cx="173.8" cy="633.1" r="4.8" fill="#ff0000" stroke="#5a0000" stroke-width="1"/>
<circle cx="196.1" cy="619.6" r="4.8" fill="#ff0000" stroke="#5a0000" stroke-width="1"/>
<circle cx="204.1" cy="642.5" r="4.8" fill="#ff0000" stroke="#5a0000" stroke-width="1"/>
<circle cx="235.6" cy="656.5" r="4.8" fill="#ff0000" stroke="#5a0000" stroke-width="1"/>
<circle cx="394.8" cy="502.6" r="4.8" fill="#ff0000" stroke="#5a0000" stroke-width="1"/>
<circle cx="410.4" cy="544.8" r="4.8" fill="#ff0000" stroke="#5a0000" stroke-width="1"/>
<circle cx="460.6" cy="538.9" r="4.8" fill="#ff0000" stroke="#5a0000" stroke-width="1"/>
<circle cx="314.1" cy="561.3" r="4.8" fill="#ff0000" stroke="#5a0000" stroke-width="1"/>
<circle cx="358.6" cy="612.4" r="4.8" fill="#ff0000" stroke="#5a0000" stroke-width="1"/>
<circle cx="272.7" cy="646.4" r="4.8" fill="#ff0000" stroke="#5a0000" stroke-width="1"/>
<circle cx="309.9" cy="644.7" r="4.8" fill="#ff0000" stroke="#5a0000" stroke-width="1"/>
<circle cx="297.6" cy="672.0" r="4.8" fill="#ff0000" stroke="#5a0000" stroke-width="1"/>
<circle cx="527.4" cy="608.6" r="4.8" fill="#ff0000" stroke="#5a0000" stroke-width="1"/>
<circle cx="554.8" cy="631.8" r="4.8" fill="#ff0000" stroke="#5a0000" stroke-width="1"/>
<circle cx="152.1" cy="507.4" r="4.8" fill="#0000ee" stroke="#000050" stroke-width="1"/>
<circle cx="148.9" cy="540.5" r="4.8" fill="#0000ee" stroke="#000050" stroke-width="1"/>
<circle cx="189.2" cy="577.1" r="4.8" fill="#0000ee" stroke="#000050" stroke-width="1"/>
<circle cx="147.1" cy="592.5" r="4.8" fill="#0000ee" stroke="#000050" stroke-width="1"/>
<circle cx="147.8" cy="602.7" r="4.8" fill="#0000ee" stroke="#000050" stroke-width="1"/>
<circle cx="150.8" cy="601.3" r="4.8" fill="#0000ee" stroke="#000050" stroke-width="1"/>
<circle cx="160.0" cy="618.3" r="4.8" fill="#0000ee" stroke="#000050" stroke-width="1"/>
<circle cx="163.1" cy="620.4" r="4.8" fill="#0000ee" stroke="#000050" stroke-width="1"/>
<circle cx="166.7" cy="619.3" r="4.8" fill="#0000ee" stroke="#000050" stroke-width="1"/>
<circle cx="177.7" cy="626.8" r="4.8" fill="#0000ee" stroke="#000050" stroke-width="1"/>
<circle cx="178.9" cy="639.8" r="4.8" fill="#0000ee" stroke="#000050" stroke-width="1"/>
<circle cx="214.6" cy="613.2" r="4.8" fill="#0000ee" stroke="#000050" stroke-width="1"/>
<circle cx="256.5" cy="543.9" r="4.8" fill="#0000ee" stroke="#000050" stroke-width="1"/>
<circle cx="316.5" cy="589.3" r="4.8" fill="#0000ee" stroke="#000050" stroke-width="1"/>
<circle cx="321.1" cy="627.9" r="4.8" fill="#0000ee" stroke="#000050" stroke-width="1"/>
<circle cx="253.5" cy="637.7" r="4.8" fill="#0000ee" stroke="#000050" stroke-width="1"/>
<circle cx="431.5" cy="659.7" r="4.8" fill="#0000ee" stroke="#000050" stroke-width="1"/>
<circle cx="436.7" cy="662.2" r="4.8" fill="#0000ee" stroke="#000050" stroke-width="1"/>
<circle cx="444.8" cy="661.5" r="4.8" fill="#0000ee" stroke="#000050" stroke-width="1"/>
<circle cx="535.6" cy="628.2" r="4.8" fill="#0000ee" stroke="#000050" stroke-width="1"/>
<circle cx="537.0" cy="622.3" r="4.8" fill="#ff0000" stroke="#5a0000" stroke-width="1"/>
<circle cx="217.2" cy="608.0" r="4.8" fill="#ff0000" stroke="#5a0000" stroke-width="1"/>
<circle cx="226.5" cy="608.9" r="4.8" fill="#ff0000" stroke="#5a0000" stroke-width="1"/>
<circle cx="602.2" cy="415.8" r="4.6" fill="#e8893c"/>
<circle cx="602.2" cy="431" r="4.6" fill="#0000ee"/>
<circle cx="602" cy="446.4" r="4.6" fill="#ee0000"/>
<g font-weight="bold" font-size="12" fill="#111">
<text x="614.5" y="421.6">Mar</text>
<text x="614.2" y="436.6">Jun</text>
<text x="614.8" y="451.2">Aug</text>
</g>
</svg></body></html>
